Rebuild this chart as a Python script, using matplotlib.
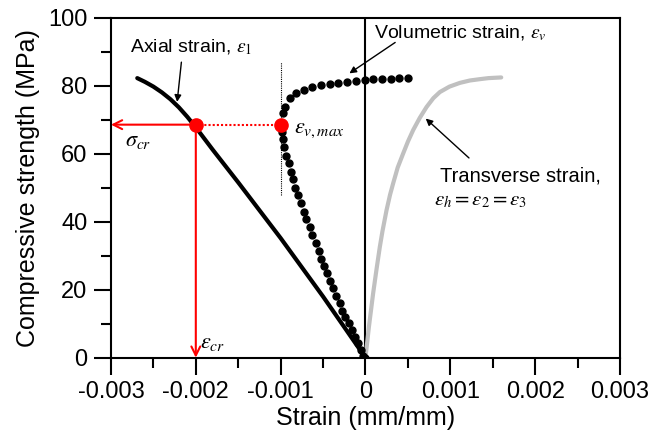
import matplotlib
matplotlib.use("Agg")
import matplotlib.pyplot as plt

plt.rcParams['font.family'] = ['Liberation Sans', 'DejaVu Sans']
plt.rcParams['mathtext.fontset'] = 'stix'

# axial strain (black line)
axial_strain = [0, -0.0005, -0.001, -0.0015, -0.0018, -0.002, -0.0021, -0.0022, -0.0023,
                -0.0024, -0.0025, -0.0026, -0.00269]
axial_stress = [0, 18.0, 35.2, 51.6, 61.2, 67.8, 70.9, 73.7, 76.1, 78.1, 79.8, 81.2, 82.3]

# transverse strain (grey line)
trans_strain = [0, 0.00004, 0.00009, 0.00013, 0.000169, 0.0002, 0.000248, 0.00029, 0.000326,
                0.00038, 0.000444, 0.0005, 0.000562, 0.00064, 0.00072, 0.0008, 0.000877,
                0.00099, 0.001113, 0.00123, 0.00135, 0.00145, 0.0016]
trans_stress = [0, 9.0, 18.9, 26.0, 32.6, 37.2, 43.4, 48.0, 51.3, 56.0, 60.1, 63.6, 67.0,
                70.6, 73.8, 76.4, 78.2, 79.8, 80.9, 81.6, 82.0, 82.3, 82.5]

# volumetric strain (dots)
vol_strain = [0, -0.000028, -0.000055, -0.000087, -0.000126, -0.000158, -0.000197, -0.000236,
              -0.000272, -0.000303, -0.000342, -0.000382, -0.000421, -0.000453, -0.000489,
              -0.00052, -0.000551, -0.000587, -0.000626, -0.000658, -0.000697, -0.000728,
              -0.000764, -0.000796, -0.000827, -0.000855, -0.000882, -0.000906, -0.000935,
              -0.000955, -0.000972, -0.000985, -0.000973, -0.000944, -0.000894, -0.000815,
              -0.000725, -0.000626, -0.000528, -0.000421, -0.000319, -0.000217, -0.000115,
              -0.000008, 0.000094, 0.000196, 0.000299, 0.0004, 0.000503]
vol_stress = [0, 0.5, 2.3, 4.2, 6.2, 8.1, 10.1, 12.1, 13.7, 16.0, 18.1, 20.4, 22.6, 24.8, 27.0,
              29.2, 31.5, 33.8, 36.1, 38.4, 40.7, 42.9, 45.4, 47.9, 50.1, 52.5, 54.7, 57.2, 59.5,
              61.9, 64.3, 66.5, 71.9, 73.8, 76.5, 77.9, 78.9, 79.7, 80.2, 80.7, 80.9, 81.2, 81.5,
              81.7, 81.9, 82.0, 82.1, 82.2, 82.4]

sigma_cr = 68.6
eps_cr = -0.002
eps_vmax = -0.00099

xticks = [-0.003, -0.002, -0.001, 0, 0.001, 0.002, 0.003]
xtick_labels = ['-0.003', '-0.002', '-0.001', '0', '0.001', '0.002', '0.003']

fig = plt.figure(figsize=(6.52, 4.41), dpi=100)
ax = fig.add_axes([0.1702, 0.1889, 0.7807, 0.7703])

ax.axvline(0, color='black', lw=1.5, zorder=1)
ax.plot(axial_strain, axial_stress, color='black', lw=3, solid_capstyle='round', zorder=3)
ax.plot(trans_strain, trans_stress, color='#c0c0c0', lw=3, solid_capstyle='round', zorder=3)
ax.plot(vol_strain, vol_stress, 'o', color='black', ms=5, zorder=4)

# dotted guide at eps_v,max
ax.plot([eps_vmax, eps_vmax], [48, 87], color='black', lw=0.8, ls=(0, (1, 1)), zorder=2)
ax.plot([eps_cr, eps_vmax], [sigma_cr, sigma_cr], color='red', lw=1.5, ls=(0, (1, 1)), zorder=5)

# red arrows
ax.annotate('', xy=(-0.003, sigma_cr), xytext=(eps_cr, sigma_cr),
            arrowprops=dict(arrowstyle='->', color='red', lw=1.5, shrinkA=0, shrinkB=0,
                            mutation_scale=16), zorder=5)
ax.annotate('', xy=(eps_cr, 0), xytext=(eps_cr, sigma_cr),
            arrowprops=dict(arrowstyle='->', color='red', lw=1.5, shrinkA=0, shrinkB=0,
                            mutation_scale=16), zorder=5)
ax.plot([eps_cr, eps_vmax], [sigma_cr, sigma_cr], 'o', color='red', ms=9.5, zorder=6)

# labels
ax.text(-0.00278, 91.4, r'Axial strain, $\varepsilon_1$', fontsize=14, va='center', ha='left')
ax.annotate('', xy=(-0.00222, 75.3), xytext=(-0.00217, 87),
            arrowprops=dict(arrowstyle='-|>', color='black', lw=1, shrinkA=0, shrinkB=0,
                            mutation_scale=10))
ax.text(0.0001, 95.5, r'Volumetric strain, $\varepsilon_v$', fontsize=14, va='center', ha='left')
ax.annotate('', xy=(-0.00019, 83.7), xytext=(0.00035, 92.8),
            arrowprops=dict(arrowstyle='-|>', color='black', lw=1, shrinkA=0, shrinkB=0,
                            mutation_scale=10))
ax.text(0.00088, 53.4, 'Transverse strain,', fontsize=14.5, va='center', ha='left')
ax.text(0.00081, 46.4, r'$\varepsilon_h = \varepsilon_2 = \varepsilon_3$', fontsize=15, va='center', ha='left')
ax.annotate('', xy=(0.00071, 70.4), xytext=(0.00122, 58.8),
            arrowprops=dict(arrowstyle='-|>', color='black', lw=1, shrinkA=0, shrinkB=0,
                            mutation_scale=10))
ax.text(-0.00283, 63.8, r'$\sigma_{cr}$', fontsize=16, va='center', ha='left')
ax.text(-0.00084, 67.2, r'$\varepsilon_{v,max}$', fontsize=16, va='center', ha='left')
ax.text(-0.00195, 4.5, r'$\varepsilon_{cr}$', fontsize=16, va='center', ha='left')

ax.set_xlim(-0.003, 0.003)
ax.set_ylim(0, 100)
ax.set_xticks(xticks)
ax.set_xticklabels(xtick_labels)
ax.set_xticks([-0.0025, -0.0015, -0.0005, 0.0005, 0.0015, 0.0025], minor=True)
ax.set_yticks([0, 20, 40, 60, 80, 100])
ax.set_yticks([10, 30, 50, 70, 90], minor=True)
ax.tick_params(which='major', direction='out', length=12, width=1.5, labelsize=17, pad=5)
ax.tick_params(which='minor', direction='out', length=7, width=1.5)
for s in ax.spines.values():
    s.set_linewidth(1.5)

ax.set_xlabel('Strain (mm/mm)', fontsize=18, labelpad=2)
ax.set_ylabel('Compressive strength (MPa)', fontsize=18, labelpad=6)

fig.savefig('out.png', dpi=100)
